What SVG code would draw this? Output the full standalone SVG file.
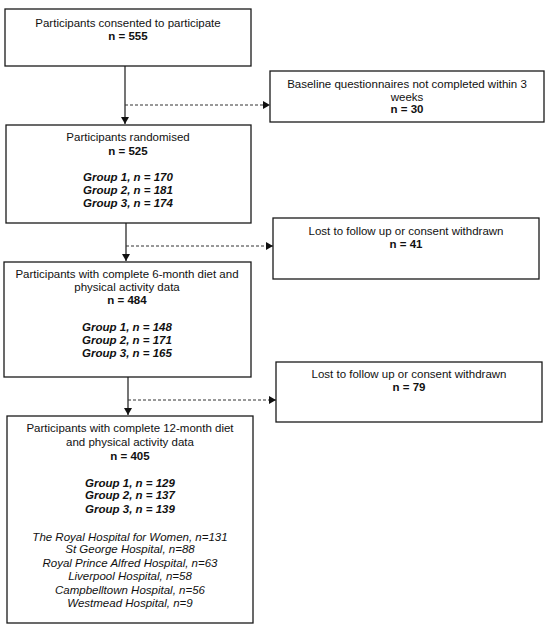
<svg xmlns="http://www.w3.org/2000/svg" width="550" height="630" viewBox="0 0 550 630">
<style>
.box{fill:#fff;stroke:#1a1a1a;stroke-width:1.3}
text{font-family:"Liberation Sans",Arial,sans-serif;font-size:11.5px;fill:#111;text-anchor:middle}
.b{font-weight:bold}
.bi{font-weight:bold;font-style:italic}
.i{font-style:italic}
.solid{stroke:#1a1a1a;stroke-width:1.2;fill:none}
.dash{stroke:#333;stroke-width:1;stroke-dasharray:3,2;fill:none}
</style>
<defs>
<marker id="ah" markerWidth="8" markerHeight="8" refX="7" refY="4" orient="auto" markerUnits="userSpaceOnUse">
<path d="M0,0 L7,4 L0,8 Z" fill="#111"/>
</marker>
</defs>
<rect width="550" height="630" fill="#fff"/>
<g id="connectors">
<line class="solid" x1="125" y1="66" x2="125" y2="124" marker-end="url(#ah)"/>
<line class="dash" x1="125" y1="105" x2="270" y2="105" marker-end="url(#ah)"/>
<line class="solid" x1="126" y1="223" x2="126" y2="261" marker-end="url(#ah)"/>
<line class="dash" x1="126" y1="246" x2="273" y2="246" marker-end="url(#ah)"/>
<line class="solid" x1="128" y1="377" x2="128" y2="415" marker-end="url(#ah)"/>
<line class="dash" x1="128" y1="400" x2="276" y2="400" marker-end="url(#ah)"/>
</g>
<g id="consented">
<rect class="box" x="5" y="9" width="246" height="57"/>
<text x="128" y="27">Participants consented to participate</text>
<text class="b" x="128" y="40">n = 555</text>
</g>
<g id="baseline">
<rect class="box" x="270" y="71" width="274" height="51"/>
<text x="407" y="88">Baseline questionnaires not completed within 3</text>
<text x="407" y="101">weeks</text>
<text class="b" x="407" y="113">n = 30</text>
</g>
<g id="randomised">
<rect class="box" x="6" y="125" width="245" height="98"/>
<text x="128" y="141">Participants randomised</text>
<text class="b" x="128" y="155">n = 525</text>
<text class="bi" x="128" y="181">Group 1, n = 170</text>
<text class="bi" x="128" y="194">Group 2, n = 181</text>
<text class="bi" x="128" y="207">Group 3, n = 174</text>
</g>
<g id="lost1">
<rect class="box" x="273" y="218" width="266" height="61"/>
<text x="406" y="235">Lost to follow up or consent withdrawn</text>
<text class="b" x="406" y="248">n = 41</text>
</g>
<g id="sixmonth">
<rect class="box" x="4" y="262" width="247" height="115"/>
<text x="127" y="278">Participants with complete 6-month diet and</text>
<text x="127" y="291">physical activity data</text>
<text class="b" x="127" y="304">n = 484</text>
<text class="bi" x="127" y="331">Group 1, n = 148</text>
<text class="bi" x="127" y="344">Group 2, n = 171</text>
<text class="bi" x="127" y="357">Group 3, n = 165</text>
</g>
<g id="lost2">
<rect class="box" x="276" y="362" width="266" height="60"/>
<text x="409" y="378">Lost to follow up or consent withdrawn</text>
<text class="b" x="409" y="391">n = 79</text>
</g>
<g id="twelvemonth">
<rect class="box" x="7" y="416" width="246" height="207"/>
<text x="130" y="432">Participants with complete 12-month diet</text>
<text x="130" y="446">and physical activity data</text>
<text class="b" x="130" y="460">n = 405</text>
<text class="bi" x="130" y="487">Group 1, n = 129</text>
<text class="bi" x="130" y="499">Group 2, n = 137</text>
<text class="bi" x="130" y="513">Group 3, n = 139</text>
<text class="i" x="130" y="541">The Royal Hospital for Women, n=131</text>
<text class="i" x="130" y="553">St George Hospital, n=88</text>
<text class="i" x="130" y="567">Royal Prince Alfred Hospital, n=63</text>
<text class="i" x="130" y="580">Liverpool Hospital, n=58</text>
<text class="i" x="130" y="594">Campbelltown Hospital, n=56</text>
<text class="i" x="130" y="607">Westmead Hospital, n=9</text>
</g>
</svg>
